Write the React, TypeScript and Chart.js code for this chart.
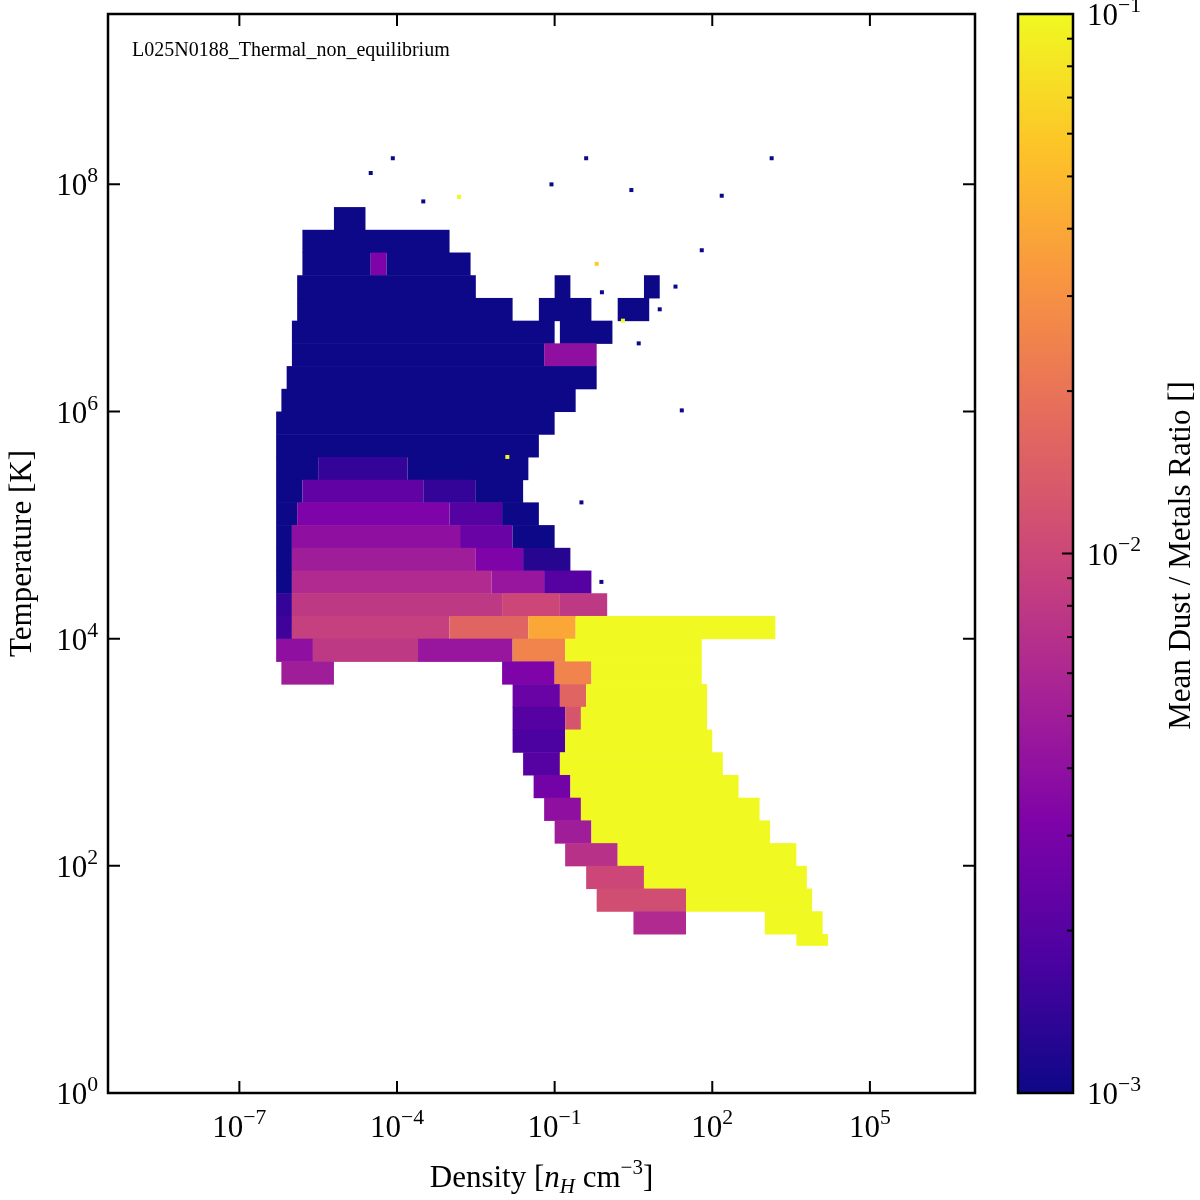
import React, { useEffect, useRef } from "react";
import { Chart, registerables } from "chart.js";
Chart.register(...registerables);

// log10(density) range, log10(T) range
const xRange = [-9.5, 7];
const yRange = [0, 9.5];
const xTicks = [-7, -4, -1, 2, 5];
const yTicks = [0, 2, 4, 6, 8];
const cbRange = [-3, -1];
const title = "L025N0188_Thermal_non_equilibrium";

// rows: [log10 T centre, log10 n start, log10 n end, log10 dust/metal ratio]
const cells: number[][] = [
  [7.7, -5.2, -4.6, -3],
  [7.5, -5.8, -3.0, -3],
  [7.3, -5.8, -4.5, -3], [7.3, -4.5, -4.2, -2.5], [7.3, -4.2, -2.6, -3],
  [7.1, -5.9, -2.5, -3], [7.1, -1.0, -0.7, -3], [7.1, 0.7, 1.0, -3],
  [6.9, -5.9, -1.8, -3], [6.9, -1.3, -0.3, -3], [6.9, 0.2, 0.8, -3],
  [6.7, -6.0, -1.0, -3], [6.7, -0.9, 0.1, -3],
  [6.5, -6.0, -1.2, -3], [6.5, -1.2, -0.2, -2.4],
  [6.3, -6.1, -0.2, -3],
  [6.1, -6.2, -0.6, -3],
  [5.9, -6.3, -1.0, -3],
  [5.7, -6.3, -1.3, -3],
  [5.5, -6.3, -5.5, -3], [5.5, -5.5, -3.8, -2.85], [5.5, -3.8, -1.5, -3],
  [5.3, -6.3, -5.8, -3], [5.3, -5.8, -3.5, -2.65], [5.3, -3.5, -2.5, -2.85], [5.3, -2.5, -1.6, -3],
  [5.1, -6.3, -5.9, -3], [5.1, -5.9, -3.0, -2.5], [5.1, -3.0, -2.0, -2.7], [5.1, -2.0, -1.3, -3],
  [4.9, -6.3, -6.0, -3], [4.9, -6.0, -2.8, -2.4], [4.9, -2.8, -1.8, -2.6], [4.9, -1.8, -1.0, -3],
  [4.7, -6.3, -6.0, -3], [4.7, -6.0, -2.5, -2.3], [4.7, -2.5, -1.6, -2.5], [4.7, -1.6, -0.7, -2.9],
  [4.5, -6.3, -6.0, -3], [4.5, -6.0, -2.2, -2.2], [4.5, -2.2, -1.2, -2.35], [4.5, -1.2, -0.3, -2.7],
  [4.3, -6.3, -6.0, -2.85], [4.3, -6.0, -2.0, -2.1], [4.3, -2.0, -0.9, -2.0], [4.3, -0.9, 0.0, -2.1],
  [4.1, -6.3, -6.0, -2.8], [4.1, -6.0, -3.0, -2.05], [4.1, -3.0, -1.5, -1.8], [4.1, -1.5, -0.6, -1.4], [4.1, -0.6, 3.2, -1.0],
  [3.9, -6.3, -5.6, -2.4], [3.9, -5.6, -3.6, -2.1], [3.9, -3.6, -1.8, -2.35], [3.9, -1.8, -0.8, -1.6], [3.9, -0.8, 1.8, -1.0],
  [3.7, -6.2, -5.2, -2.3], [3.7, -2.0, -1.0, -2.5], [3.7, -1.0, -0.3, -1.6], [3.7, -0.3, 1.8, -1.0],
  [3.5, -1.8, -0.9, -2.6], [3.5, -0.9, -0.4, -1.8], [3.5, -0.4, 1.9, -1.0],
  [3.3, -1.8, -0.8, -2.7], [3.3, -0.8, -0.5, -1.9], [3.3, -0.5, 1.9, -1.0],
  [3.1, -1.8, -0.8, -2.75], [3.1, -0.8, 2.0, -1.0],
  [2.9, -1.6, -0.9, -2.7], [2.9, -0.9, 2.2, -1.0],
  [2.7, -1.4, -0.7, -2.55], [2.7, -0.7, 2.5, -1.0],
  [2.5, -1.2, -0.5, -2.4], [2.5, -0.5, 2.9, -1.0],
  [2.3, -1.0, -0.3, -2.3], [2.3, -0.3, 3.1, -1.0],
  [2.1, -0.8, 0.2, -2.15], [2.1, 0.2, 3.6, -1.0],
  [1.9, -0.4, 0.7, -2.0], [1.9, 0.7, 3.8, -1.0],
  [1.7, -0.2, 1.5, -1.95], [1.7, 1.5, 3.9, -1.0],
  [1.5, 0.5, 1.5, -2.2], [1.5, 3.0, 4.1, -1.0],
  [1.35, 3.6, 4.2, -1.0],
];
// sparse single bins: [log10 n, log10 T, log10 ratio]
const sparse: number[][] = [
  [3.13, 8.23, -3], [-0.4, 8.23, -3], [-4.08, 8.23, -3], [-1.06, 8.0, -3],
  [0.46, 7.95, -3], [2.18, 7.9, -3], [1.8, 7.42, -3], [1.42, 6.01, -3],
  [-0.49, 5.2, -3], [-0.11, 4.5, -3], [-2.82, 7.89, -1], [-4.5, 8.1, -3],
  [-3.5, 7.85, -3], [-0.2, 7.3, -1.2], [0.3, 6.8, -1.0], [-1.9, 5.6, -1.0],
  [1.3, 7.1, -3], [1.0, 6.9, -3], [-0.1, 7.05, -3], [0.6, 6.6, -3],
];

const plasma = ["#0d0887", "#4c02a1", "#7e03a8", "#a92395", "#cc4778", "#e56b5d", "#f89441", "#fdc328", "#f0f921"];
function hex(c: string) { return [1, 3, 5].map((i) => parseInt(c.slice(i, i + 2), 16)); }
function cmap(v: number) {
  let t = (v - cbRange[0]) / (cbRange[1] - cbRange[0]);
  t = Math.max(0, Math.min(1, t)) * (plasma.length - 1);
  const i = Math.min(plasma.length - 2, Math.floor(t));
  const f = t - i;
  const a = hex(plasma[i]), b = hex(plasma[i + 1]);
  return `rgb(${a.map((x, k) => Math.round(x + (b[k] - x) * f)).join(",")})`;
}

const FONT = "'Liberation Serif', 'DejaVu Serif', serif";

function drawPow(ctx: CanvasRenderingContext2D, x: number, y: number, e: number, align: string, size: number) {
  const base = "10";
  const exp = e < 0 ? "\u2212" + Math.abs(e) : String(e);
  ctx.font = `${size}px ${FONT}`;
  const wb = ctx.measureText(base).width;
  ctx.font = `${size * 0.7}px ${FONT}`;
  const we = ctx.measureText(exp).width;
  const w = wb + we;
  let x0 = x;
  if (align === "center") x0 = x - w / 2;
  else if (align === "right") x0 = x - w;
  ctx.textAlign = "left";
  ctx.textBaseline = "alphabetic";
  ctx.font = `${size}px ${FONT}`;
  ctx.fillText(base, x0, y);
  ctx.font = `${size * 0.7}px ${FONT}`;
  ctx.fillText(exp, x0 + wb, y - size * 0.42);
}

const plugin = {
  id: "hist",
  afterDatasetsDraw(chart: any) {
    const ctx: CanvasRenderingContext2D = chart.ctx;
    const xs = chart.scales.x, ys = chart.scales.y;
    const a = chart.chartArea;
    ctx.save();
    const rowH = 0.2;
    for (const [t, x0, x1, v] of cells) {
      const h = t === 1.35 ? 0.1 : rowH;
      const px0 = xs.getPixelForValue(x0), px1 = xs.getPixelForValue(x1);
      const py0 = ys.getPixelForValue(t + h / 2), py1 = ys.getPixelForValue(t - h / 2);
      ctx.fillStyle = cmap(v);
      ctx.fillRect(px0, py0, px1 - px0, py1 - py0 + 0.5);
    }
    for (const [x, t, v] of sparse) {
      const px = xs.getPixelForValue(x), py = ys.getPixelForValue(t);
      ctx.fillStyle = cmap(v);
      ctx.fillRect(px - 2, py - 2, 4, 4);
    }
    ctx.strokeStyle = "#000";
    ctx.lineWidth = 2.5;
    ctx.strokeRect(a.left, a.top, a.right - a.left, a.bottom - a.top);
    ctx.fillStyle = "#000";
    ctx.lineWidth = 2;
    const TS = 31;
    for (const e of xTicks) {
      const px = xs.getPixelForValue(e);
      ctx.beginPath();
      ctx.moveTo(px, a.bottom); ctx.lineTo(px, a.bottom - 12);
      ctx.moveTo(px, a.top); ctx.lineTo(px, a.top + 12);
      ctx.stroke();
      drawPow(ctx, px, a.bottom + 44, e, "center", TS);
    }
    for (const e of yTicks) {
      const py = ys.getPixelForValue(e);
      ctx.beginPath();
      ctx.moveTo(a.left, py); ctx.lineTo(a.left + 12, py);
      ctx.moveTo(a.right, py); ctx.lineTo(a.right - 12, py);
      ctx.stroke();
      drawPow(ctx, a.left - 10, py + 11, e, "right", TS);
    }
    const LS = 31;
    const lx = (a.left + a.right) / 2, ly = a.bottom + 94;
    const parts: [string, number, number][] = [["Density [", LS, 0], ["n", LS, 0], ["H", 21, 6], [" cm", LS, 0], ["\u22123", 21, -13], ["]", LS, 0]];
    const fontOf = (s: string, sz: number) => `${s === "n" || s === "H" ? "italic " : ""}${sz}px ${FONT}`;
    let total = 0;
    for (const [s, sz] of parts) { ctx.font = fontOf(s, sz); total += ctx.measureText(s).width; }
    let cx = lx - total / 2;
    ctx.textAlign = "left";
    for (const [s, sz, dy] of parts) {
      ctx.font = fontOf(s, sz);
      ctx.fillText(s, cx, ly + dy);
      cx += ctx.measureText(s).width;
    }
    ctx.save();
    ctx.translate(22, (a.top + a.bottom) / 2);
    ctx.rotate(-Math.PI / 2);
    ctx.textAlign = "center";
    ctx.font = `${LS}px ${FONT}`;
    ctx.fillText("Temperature [K]", 0, 9);
    ctx.restore();
    ctx.font = `20px ${FONT}`;
    ctx.textAlign = "left";
    ctx.fillText(title, a.left + 24, a.top + 42);
    // colorbar
    const cbL = 1018, cbR = 1073, cbT = a.top, cbB = a.bottom;
    const g = ctx.createLinearGradient(0, cbB, 0, cbT);
    plasma.forEach((c, i) => g.addColorStop(i / (plasma.length - 1), c));
    ctx.fillStyle = g;
    ctx.fillRect(cbL, cbT, cbR - cbL, cbB - cbT);
    ctx.lineWidth = 2.5;
    ctx.strokeRect(cbL, cbT, cbR - cbL, cbB - cbT);
    ctx.fillStyle = "#000";
    ctx.lineWidth = 2;
    const cbY = (v: number) => cbB - ((v - cbRange[0]) / (cbRange[1] - cbRange[0])) * (cbB - cbT);
    for (let d = cbRange[0]; d < cbRange[1]; d++) {
      for (let m = 2; m <= 9; m++) {
        const py = cbY(d + Math.log10(m));
        ctx.beginPath(); ctx.moveTo(cbR, py); ctx.lineTo(cbR - 6, py); ctx.stroke();
      }
    }
    for (let d = cbRange[0]; d <= cbRange[1]; d++) {
      const py = cbY(d);
      ctx.beginPath(); ctx.moveTo(cbR, py); ctx.lineTo(cbR - 11, py); ctx.stroke();
      drawPow(ctx, cbR + 14, py + 11, d, "left", TS);
    }
    ctx.save();
    ctx.translate(1190, (cbT + cbB) / 2 + 2);
    ctx.rotate(-Math.PI / 2);
    ctx.textAlign = "center";
    ctx.font = `${LS}px ${FONT}`;
    ctx.fillText("Mean Dust / Metals Ratio []", 0, 0);
    ctx.restore();
    ctx.restore();
  },
};

export default function App() {
  const ref = useRef<HTMLCanvasElement>(null);
  useEffect(() => {
    document.body.style.margin = "0";
    const chart = new Chart(ref.current!, {
      type: "scatter",
      data: { datasets: [{ data: [], pointRadius: 0 }] },
      options: {
        animation: false,
        responsive: false,
        layout: { padding: { left: 108, top: 14, right: 225, bottom: 107 } },
        plugins: { legend: { display: false }, tooltip: { enabled: false } },
        scales: {
          x: { type: "linear", min: xRange[0], max: xRange[1], display: false },
          y: { type: "linear", min: yRange[0], max: yRange[1], display: false },
        },
      },
      plugins: [plugin],
    });
    return () => chart.destroy();
  }, []);
  return <canvas ref={ref} width={1200} height={1200} style={{ display: "block", width: 1200, height: 1200 }} />;
}
